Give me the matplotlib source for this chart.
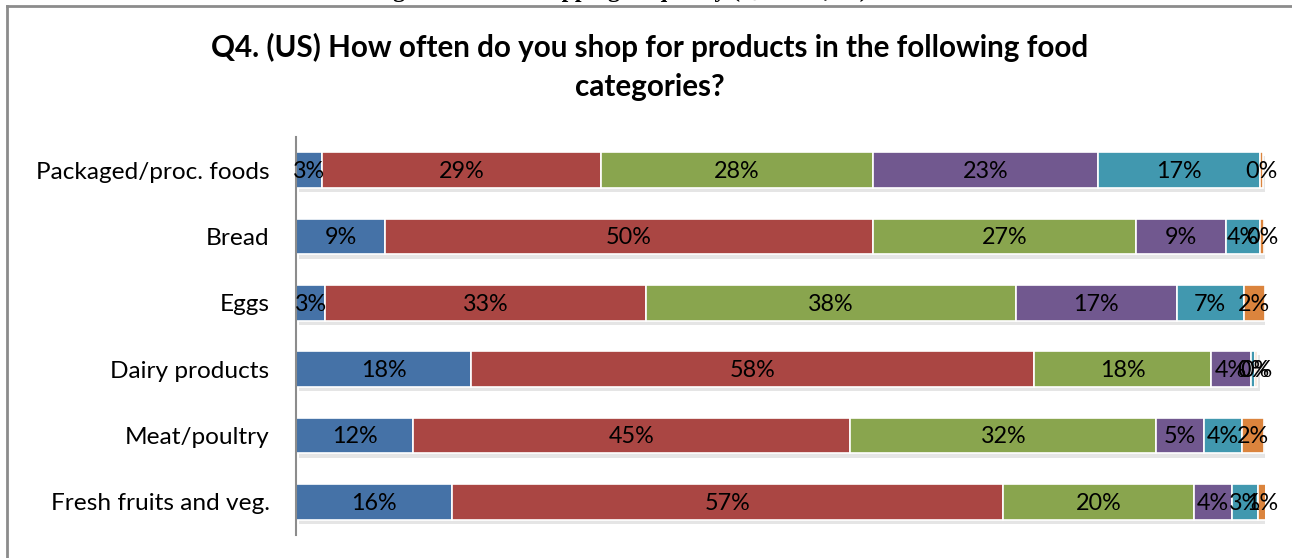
import numpy as np
import matplotlib
matplotlib.use('Agg')
import matplotlib.pyplot as plt
import matplotlib.patheffects as pe
from matplotlib.lines import Line2D

plt.rcParams['font.family'] = ['Lato', 'DejaVu Sans']

categories = ['Packaged/proc. foods', 'Bread', 'Eggs', 'Dairy products',
              'Meat/poultry', 'Fresh fruits and veg.']
# share of respondents per frequency answer, in %
seg1 = [2.7, 9.2, 3.0, 18.1, 12.1, 16.1]
seg2 = [28.8, 50.3, 33.1, 58.1, 45.1, 56.9]
seg3 = [28.0, 27.2, 38.2, 18.2, 31.6, 19.7]
seg4 = [23.3, 9.3, 16.6, 4.2, 4.9, 3.9]
seg5 = [16.7, 3.5, 6.9, 0.4, 3.9, 2.7]
seg6 = [0.3, 0.4, 2.2, 0.2, 2.3, 0.8]
colors = ['#4572A7', '#AA4643', '#89A54E', '#71588F', '#4198AF', '#DB843D']

title = 'Q4. (US) How often do you shop for products in the following food\ncategories?'
caption = 'Figure 4: Food shopping frequency (Q4 \u2013 US, %)'

fig = plt.figure(figsize=(12.92, 5.58), dpi=100)
ax = fig.add_axes([296/1292, 1-535/558, 969/1292, 398/558])

y = np.arange(len(categories))
left = np.zeros(len(categories))
shadow = [pe.SimplePatchShadow(offset=(2, -3), shadow_rgbFace='#aaaaaa', alpha=0.3), pe.Normal()]
for vals, c in zip([seg1, seg2, seg3, seg4, seg5, seg6], colors):
    vals = np.array(vals)
    bars = ax.barh(y, vals, left=left, height=0.54, color=c, edgecolor='white', linewidth=1.2)
    for b in bars:
        b.set_path_effects(shadow)
    for yi, l, v in zip(y, left, vals):
        ax.text(l + v/2, yi + 0.02, f'{v:.0f}%', ha='center', va='center', fontsize=16.8, color='black')
    left += vals

ax.set_xlim(0, 100)
ax.set_ylim(len(categories) - 0.5, -0.5)
ax.set_yticks(y)
ax.set_yticklabels(categories, fontsize=17.6)
ax.tick_params(axis='y', length=0, pad=19)
ax.set_xticks([])
for s in ['top', 'right', 'bottom']:
    ax.spines[s].set_visible(False)
ax.spines['left'].set_color('#8c8c8c')
ax.spines['left'].set_linewidth(1.5)

fig.text(0.503, 1-67/558, title, ha='center', va='center', fontsize=21.3, fontweight='bold',
         linespacing=1.45)

# outer chart frame
fig.add_artist(Line2D([7/1292, 7/1292], [0, 1-6/558], color='#8c8c8c', lw=2))
fig.add_artist(Line2D([7/1292, 1], [1-6/558, 1-6/558], color='#8c8c8c', lw=2))

# caption of the page above the frame, mostly cut off
fig.text(0.48, 1+3/558, caption, ha='center', va='baseline', fontsize=17, fontweight='bold',
         family=['Liberation Serif', 'DejaVu Serif'])

fig.savefig('out.png', dpi=100)
